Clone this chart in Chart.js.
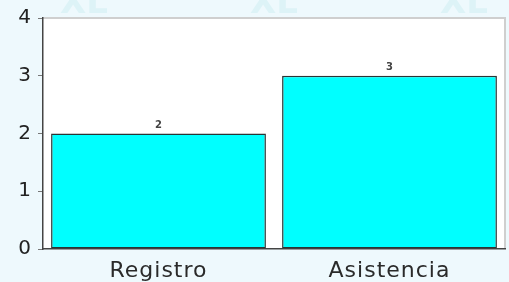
<!DOCTYPE html>
<html>
<head>
<meta charset="utf-8">
<script src="https://cdn.jsdelivr.net/npm/chart.js@4.4.0/dist/chart.umd.min.js"></script>
<style>
  html, body { margin: 0; padding: 0; background: #eef9fd; }
  #wrap { width: 509px; height: 282px; }
</style>
</head>
<body>
<div id="wrap"><canvas id="chart" width="509" height="282"></canvas></div>
<script>
// data
const categories = ['Registro', 'Asistencia'];
const values = [2, 3];
const yTicks = [0, 1, 2, 3, 4];

// white plot area with light border on top/right, faint watermark
const plotBackground = {
    id: 'plotBackground',
    beforeDraw(chart) {
        const ctx = chart.ctx;
        const a = chart.chartArea;
        ctx.save();
        ctx.fillStyle = '#ddf3f7';
        ctx.font = 'bold 34px DejaVu Sans';
        ctx.textBaseline = 'alphabetic';
        [60, 250, 440].forEach(x => ctx.fillText('XL', x, 13));
        ctx.fillStyle = '#ffffff';
        ctx.fillRect(a.left, a.top, a.right - a.left, a.bottom - a.top);
        ctx.strokeStyle = '#cfcfcf';
        ctx.lineWidth = 2;
        ctx.beginPath();
        ctx.moveTo(a.left, a.top);
        ctx.lineTo(a.right, a.top);
        ctx.lineTo(a.right, a.bottom);
        ctx.stroke();
        ctx.restore();
        ctx.letterSpacing = '1px';
    }
};

// small value labels above each bar
const valueLabels = {
    id: 'valueLabels',
    afterDatasetsDraw(chart) {
        const ctx = chart.ctx;
        const meta = chart.getDatasetMeta(0);
        ctx.save();
        ctx.letterSpacing = '0px';
        ctx.font = 'bold 10px DejaVu Sans';
        ctx.fillStyle = '#444';
        ctx.textAlign = 'center';
        ctx.textBaseline = 'bottom';
        meta.data.forEach((bar, i) => {
            ctx.fillText(values[i], bar.x, bar.y - 3);
        });
        ctx.restore();
    }
};

const ctx = document.getElementById('chart').getContext('2d');
const chart = new Chart(ctx, {
    type: 'bar',
    data: {
        labels: categories,
        datasets: [{
            data: values,
            backgroundColor: '#00ffff',
            borderColor: '#2a3535',
            borderWidth: 1.5,
            borderSkipped: false,
            categoryPercentage: 1,
            barPercentage: 0.93
        }]
    },
    options: {
        responsive: false,
        animation: false,
        layout: { padding: { top: 17, right: 4, left: 0, bottom: 0 } },
        plugins: {
            legend: { display: false },
            tooltip: { enabled: false }
        },
        scales: {
            x: {
                grid: { display: false },
                border: { display: true, color: '#444', width: 1.5 },
                ticks: {
                    color: '#2a2a2a',
                    font: { family: 'DejaVu Sans', size: 22 },
                    padding: 1
                },
                afterFit(scale) { scale.height = 33; }
            },
            y: {
                min: 0,
                max: 4,
                afterBuildTicks(scale) { scale.ticks = yTicks.map(v => ({ value: v })); },
                grid: { drawOnChartArea: false, tickLength: 5, color: '#777' },
                border: { display: true, color: '#444', width: 1.5 },
                ticks: {
                    color: '#222',
                    font: { family: 'DejaVu Sans', size: 20 },
                    padding: 6
                },
                afterFit(scale) { scale.width = 43; }
            }
        }
    },
    plugins: [plotBackground, valueLabels]
});
</script>
</body>
</html>
